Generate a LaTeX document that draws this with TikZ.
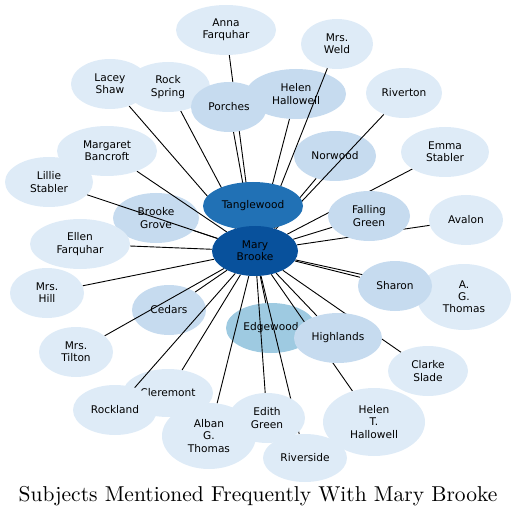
\documentclass[tikz,border=0pt]{standalone}
\usepackage{fontspec}
\setsansfont{DejaVu Sans}
\newfontfamily\titlefont{lmroman10-regular.otf}
\usepackage{tikz}
\usetikzlibrary{shapes.geometric}
\pgfdeclarelayer{front}
\pgfsetlayers{main,front}
\definecolor{pale}{HTML}{DEEBF7}
\definecolor{soft}{HTML}{C6DBEF}
\definecolor{mid}{HTML}{9ECAE1}
\definecolor{deep}{HTML}{2171B5}
\definecolor{navy}{HTML}{08519C}

\begin{document}
\begin{tikzpicture}[
    x=1pt, y=-1pt,                 % one unit per pixel, y pointing down
    subj/.style={ellipse, fill=pale, inner sep=0pt, align=center,
      minimum width=80pt, minimum height=50pt,
      font=\sffamily\fontsize{10.6}{12.2}\selectfont},
    size/.style 2 args={minimum width=#1pt, minimum height=#2pt},
    link/.style={draw=black, line width=0.9pt}
  ]
  \useasboundingbox (0,0) rectangle (517,518);

  % subjects that the links cross over
  \node[subj, fill=soft, size={86}{50}] (bgrove) at (156,218) {Brooke\\Grove};
  \node[subj, fill=soft, size={100}{50}] (hhallowell) at (296,94) {Helen\\Hallowell};
  \node[subj, fill=soft, size={82}{50}] (norwood) at (335,156) {Norwood};
  \node[subj, fill=soft, size={74}{50}] (cedars) at (169,310) {Cedars};
  \node[subj, size={90}{48}] (cleremont) at (168,393) {Cleremont};
  \node[subj, fill=mid, size={90}{50}] (edgewood) at (271,328) {Edgewood};

  \begin{pgfonlayer}{front}
  \node[subj, size={100}{50}] (afarquhar) at (226,30) {Anna\\Farquhar};
  \node[subj, size={72}{50}] (mweld) at (337,44) {Mrs.\\Weld};
  \node[subj, size={78}{50}] (lshaw) at (110,84) {Lacey\\Shaw};
  \node[subj, size={84}{50}] (rspring) at (168,87) {Rock\\Spring};
  \node[subj, fill=soft, size={76}{50}] (porches) at (229,107) {Porches};
  \node[subj, size={76}{50}] (riverton) at (404,93) {Riverton};
  \node[subj, size={100}{50}] (mbancroft) at (107,151) {Margaret\\Bancroft};
  \node[subj, size={88}{50}] (lstabler) at (49,182) {Lillie\\Stabler};
  \node[subj, size={88}{50}] (establer) at (445,152) {Emma\\Stabler};
  \node[subj, fill=soft, size={82}{50}] (fgreen) at (369,216) {Falling\\Green};
  \node[subj, size={74}{50}] (avalon) at (466,220) {Avalon};
  \node[subj, size={100}{50}] (efarquhar) at (80,244) {Ellen\\Farquhar};
  \node[subj, size={74}{50}] (mhill) at (47,293) {Mrs.\\Hill};
  \node[subj, size={94}{66}] (agthomas) at (464,297) {A.\\G.\\Thomas};
  \node[subj, fill=soft, size={74}{50}] (sharon) at (395,286) {Sharon};
  \node[subj, size={74}{50}] (mtilton) at (76,352) {Mrs.\\Tilton};
  \node[subj, fill=soft, size={88}{50}] (highlands) at (338,338) {Highlands};
  \node[subj, size={80}{50}] (cslade) at (428,371) {Clarke\\Slade};
  \node[subj, size={84}{50}] (rockland) at (115,410) {Rockland};
  \node[subj, size={94}{66}] (abthomas) at (209,436) {Alban\\G.\\Thomas};
  \node[subj, size={76}{50}] (egreen) at (267,418) {Edith\\Green};
  \node[subj, size={102}{68}] (hthallowell) at (374,422) {Helen\\T.\\Hallowell};
  \node[subj, size={84}{48}] (riverside) at (305,458) {Riverside};
  \node[subj, fill=deep, size={100}{48}] (tanglewood) at (253,206) {Tanglewood};
  \node[subj, fill=navy, size={86}{50}] (mbrooke) at (255,251) {Mary\\Brooke};
  \end{pgfonlayer}

  % every subject is linked to the centre
  \foreach \s in {bgrove,hhallowell,norwood,cedars,cleremont,edgewood,
      afarquhar,mweld,lshaw,rspring,porches,riverton,mbancroft,lstabler,
      establer,fgreen,avalon,efarquhar,mhill,agthomas,sharon,mtilton,
      highlands,cslade,rockland,abthomas,egreen,hthallowell,riverside,tanglewood}
    \draw[link] (mbrooke) -- (\s);

  \node[font=\titlefont\fontsize{21.5}{25}\selectfont] (title) at (258,496)
    {Subjects Mentioned Frequently With Mary Brooke};
\end{tikzpicture}
\end{document}
